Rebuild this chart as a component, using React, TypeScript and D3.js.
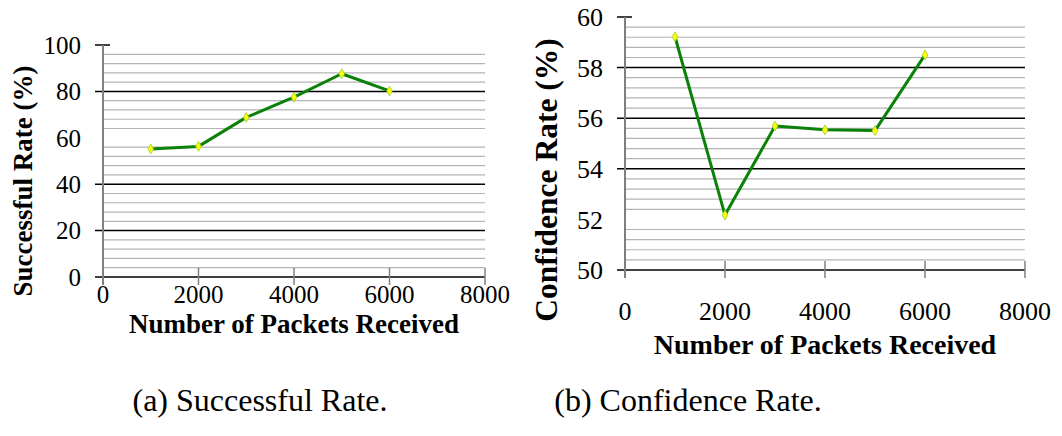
import React from 'react';
import * as d3 from 'd3';

const packets = [1000, 2000, 3000, 4000, 5000, 6000];
const successRate = [55.2, 56.3, 68.8, 77.5, 87.6, 80.2];
const confidenceRate = [59.22, 52.17, 55.69, 55.54, 55.51, 58.5];

const xTicks = [0, 2000, 4000, 6000, 8000];
const successTicks = [0, 20, 40, 60, 80, 100];
const confidenceTicks = [50, 52, 54, 56, 58, 60];
// black grid lines that survive in the scanned figure
const successMajor = [0, 20, 40, 80];
const confidenceMajor = [50, 54, 56, 58];

const SERIF = '"Liberation Serif", "Times New Roman", serif';

type PanelProps = {
  values: number[];
  yTicks: number[];
  major: number[];
  yDomain: [number, number];
  minorStep: number;
  left: number;
  right: number;
  top: number;
  bottom: number;
  tickSize: number;
  yTitle: string;
  titleX: number;
  titleY: number;
  titleSize: number;
  xTitleSize: number;
  xLabelY: number;
  xTitleY: number;
};

function Panel(p: PanelProps) {
  const x = d3.scaleLinear().domain([0, 8000]).range([p.left, p.right]);
  const y = d3.scaleLinear().domain(p.yDomain).range([p.bottom, p.top]);
  const minor = d3
    .range(p.yDomain[0], p.yDomain[1] + 1e-9, p.minorStep)
    .filter(v => !p.yTicks.some(t => Math.abs(t - v) < 1e-6));

  const line = d3
    .line<number>()
    .x((d, i) => x(packets[i]))
    .y(d => y(d));
  const diamond = d3.symbol().type(d3.symbolDiamond).size(28)();

  return (
    <g>
      {minor.map(v => (
        <line key={'m' + v} x1={p.left} x2={p.right} y1={y(v)} y2={y(v)} stroke="#b4b4b4" strokeWidth={1.2} />
      ))}
      {p.major.map(v => (
        <line key={'M' + v} x1={p.left - 8} x2={p.right} y1={y(v)} y2={y(v)} stroke="#000" strokeWidth={1.5} />
      ))}
      <line x1={p.left - 8} x2={p.left + 7} y1={y(p.yDomain[1])} y2={y(p.yDomain[1])} stroke="#000" strokeWidth={1.5} />
      <line x1={p.left} x2={p.left} y1={y(p.yDomain[1])} y2={p.bottom + 8} stroke="#808080" strokeWidth={2} />
      {xTicks.slice(1).map(t => (
        <line key={'xt' + t} x1={x(t)} x2={x(t)} y1={p.bottom - 9} y2={p.bottom + 8} stroke="#808080" strokeWidth={1.5} />
      ))}

      <path d={line(p.values) || ''} fill="none" stroke="#0a820a" strokeWidth={3} strokeLinejoin="round" />
      {p.values.map((v, i) => (
        <path
          key={'pt' + i}
          d={diamond}
          transform={`translate(${x(packets[i])},${y(v)})`}
          fill="#ffff00"
          stroke="#9acd32"
          strokeWidth={0.8}
        />
      ))}

      {p.yTicks.map(t => (
        <text key={'yl' + t} x={p.left - 22} y={y(t)} dy="0.35em" textAnchor="end" fontFamily={SERIF} fontSize={p.tickSize}>
          {t}
        </text>
      ))}
      {xTicks.map(t => (
        <text key={'xl' + t} x={x(t)} y={p.xLabelY} textAnchor="middle" fontFamily={SERIF} fontSize={p.tickSize}>
          {t}
        </text>
      ))}
      <text
        x={(p.left + p.right) / 2}
        y={p.xTitleY}
        textAnchor="middle"
        fontFamily={SERIF}
        fontWeight="bold"
        fontSize={p.xTitleSize}
      >
        Number of Packets Received
      </text>
      <text
        transform={`translate(${p.titleX},${p.titleY}) rotate(-90)`}
        textAnchor="middle"
        fontFamily={SERIF}
        fontWeight="bold"
        fontSize={p.titleSize}
      >
        {p.yTitle}
      </text>
    </g>
  );
}

export default function App() {
  return (
    <svg
      width={1062}
      height={436}
      style={{ position: 'absolute', left: 0, top: 0, background: '#fff' }}
    >
      <Panel
        values={successRate}
        yTicks={successTicks}
        major={successMajor}
        yDomain={[0, 100]}
        minorStep={4}
        left={103}
        right={485}
        top={45}
        bottom={277}
        tickSize={25}
        yTitle="Successful Rate (%)"
        titleX={32}
        titleY={181}
        titleSize={27}
        xTitleSize={27}
        xLabelY={303}
        xTitleY={333}
      />
      <Panel
        values={confidenceRate}
        yTicks={confidenceTicks}
        major={confidenceMajor}
        yDomain={[50, 60]}
        minorStep={0.4}
        left={625}
        right={1025}
        top={17}
        bottom={270}
        tickSize={26}
        yTitle="Confidence Rate (%)"
        titleX={557}
        titleY={180}
        titleSize={31.5}
        xTitleSize={28}
        xLabelY={320}
        xTitleY={354}
      />
      <text x={260} y={411} textAnchor="middle" fontFamily={SERIF} fontSize={32}>
        (a) Successful Rate.
      </text>
      <text x={688} y={411} textAnchor="middle" fontFamily={SERIF} fontSize={32}>
        (b) Confidence Rate.
      </text>
    </svg>
  );
}
